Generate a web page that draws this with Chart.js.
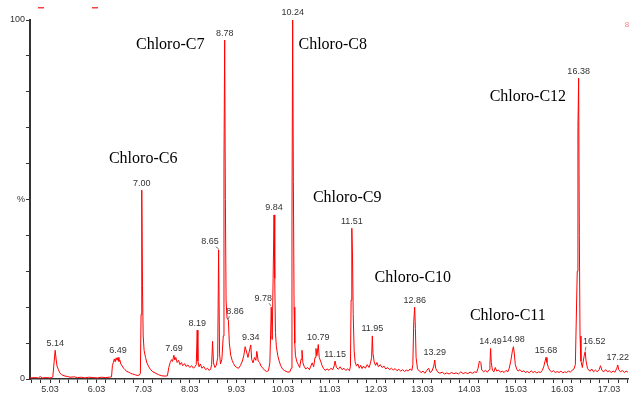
<!DOCTYPE html>
<html>
<head>
<meta charset="utf-8">
<script src="https://cdn.jsdelivr.net/npm/chart.js@4/dist/chart.umd.min.js"></script>
<style>
  html, body { margin: 0; padding: 0; background: #fff; }
  #wrap { width: 632px; height: 394px; position: relative; }
</style>
</head>
<body>
<div id="wrap"><canvas id="tic"></canvas></div>
<script>
// Total ion chromatogram, retention time (min) vs relative abundance (%)
const trace = [
  [4.60,0.3],[4.70,0.4],[4.78,0.3],[4.82,0.7],[4.86,0.3],[4.95,0.4],[5.02,0.3],[5.07,0.4],
  [5.09,0.6],[5.12,5.0],[5.14,8.0],[5.16,5.6],[5.18,3.6],[5.21,2.6],[5.24,1.7],[5.28,1.2],
  [5.33,0.9],[5.40,0.7],[5.46,0.5],[5.55,0.6],[5.62,0.4],[5.70,0.5],[5.78,0.3],[5.86,0.5],
  [5.95,0.4],[6.05,0.3],[6.14,0.5],[6.22,0.4],[6.30,0.5],[6.35,0.6],
  [6.37,3.8],[6.39,4.6],[6.41,5.6],[6.43,4.8],[6.45,5.9],[6.47,5.2],[6.49,6.0],[6.51,4.9],
  [6.53,5.3],[6.55,4.2],[6.58,3.6],[6.61,3.0],[6.64,2.6],[6.68,2.1],[6.72,1.9],[6.76,1.6],
  [6.80,1.4],[6.85,1.2],[6.90,1.0],[6.95,1.1],
  [6.97,1.6],[6.985,18],[7.00,52.6],[7.015,26],[7.03,12],[7.05,8.0],[7.08,6.0],[7.11,4.5],
  [7.15,3.4],[7.19,2.6],[7.24,2.0],[7.30,1.6],[7.36,1.2],[7.43,0.9],[7.50,0.8],[7.55,0.9],
  [7.58,3.2],[7.61,4.6],[7.64,5.4],[7.66,4.9],[7.69,6.6],[7.71,5.3],[7.73,6.0],[7.76,4.6],
  [7.79,5.2],[7.82,4.0],[7.85,4.6],[7.88,3.7],[7.92,4.3],[7.95,3.5],[7.99,3.9],[8.03,3.2],
  [8.07,3.7],[8.11,3.0],[8.14,3.4],
  [8.17,4.0],[8.19,13.6],[8.205,5.0],[8.23,3.4],[8.26,4.2],[8.29,3.0],[8.33,3.5],[8.37,2.6],
  [8.41,3.0],[8.45,2.4],[8.48,2.8],
  [8.50,4.0],[8.52,10.5],[8.54,4.5],[8.57,3.2],[8.60,3.8],
  [8.63,6.0],[8.65,36.0],[8.67,7.0],[8.69,4.2],[8.72,5.5],
  [8.75,12],[8.765,60],[8.78,94.4],[8.795,50],[8.81,22],[8.83,17.0],[8.86,16.4],[8.88,10],
  [8.91,6.6],[8.94,5.2],[8.97,4.3],[9.00,3.6],[9.04,3.2],[9.08,3.0],[9.12,3.8],[9.16,5.0],
  [9.19,6.5],[9.22,9.0],[9.25,7.5],[9.28,6.0],[9.31,7.8],[9.34,9.5],[9.36,5.5],[9.39,4.5],
  [9.42,6.0],[9.45,5.2],[9.47,7.7],[9.50,5.0],[9.53,4.6],[9.56,3.6],[9.60,3.0],[9.64,2.4],
  [9.68,2.1],[9.72,2.3],
  [9.75,4.5],[9.765,12],[9.78,20],[9.80,11],[9.82,28],[9.84,45.7],[9.855,28],[9.87,13],
  [9.89,9.0],[9.92,6.5],[9.95,5.0],[9.98,3.8],[10.02,2.8],[10.06,2.4],[10.10,2.1],[10.14,1.9],
  [10.18,2.0],
  [10.21,3.0],[10.225,45],[10.24,100],[10.255,55],[10.27,20],[10.285,10],[10.30,6.5],[10.33,4.8],
  [10.36,4.0],[10.39,3.2],[10.42,5.5],[10.44,8.0],[10.46,4.5],[10.49,3.4],[10.52,2.8],[10.56,3.2],
  [10.60,2.6],[10.63,3.6],[10.66,4.5],[10.69,3.4],[10.72,6.0],[10.74,8.5],[10.76,6.5],[10.79,9.6],
  [10.81,6.0],[10.84,5.0],[10.87,3.8],[10.90,3.0],[10.94,2.4],[10.98,2.8],[11.02,2.4],[11.06,3.0],
  [11.10,2.6],[11.13,3.6],[11.15,5.0],[11.18,3.2],[11.22,2.7],[11.26,3.4],[11.30,2.6],[11.34,3.0],
  [11.38,2.4],[11.42,2.8],[11.46,2.3],
  [11.48,3.5],[11.495,22],[11.51,42],[11.525,34],[11.54,18],[11.56,8.0],[11.58,4.8],[11.61,3.6],
  [11.64,4.2],[11.67,3.0],[11.70,3.8],[11.73,2.9],[11.76,3.6],[11.80,3.0],[11.84,4.0],[11.88,3.2],
  [11.91,4.4],[11.935,6.0],[11.95,12],[11.965,7.0],[11.99,4.8],[12.02,3.8],[12.05,4.6],[12.08,3.4],
  [12.12,4.0],[12.16,3.2],[12.20,3.6],[12.24,2.8],[12.28,3.2],[12.32,2.6],[12.36,3.0],[12.40,2.5],
  [12.44,2.9],[12.48,2.3],[12.52,2.7],[12.56,2.2],[12.60,2.6],[12.64,2.1],[12.68,2.5],[12.72,2.2],
  [12.76,2.8],[12.80,2.4],
  [12.82,4.0],[12.84,16],[12.86,20],[12.875,14],[12.89,6.0],[12.92,2.8],[12.96,2.2],[13.00,1.8],
  [13.04,2.2],[13.08,1.6],[13.12,2.4],[13.16,3.0],[13.19,1.8],[13.23,2.2],[13.27,3.6],[13.29,5.3],
  [13.31,3.0],[13.35,2.0],[13.40,1.6],[13.45,1.9],[13.50,1.4],[13.55,1.7],[13.60,1.4],[13.65,1.8],
  [13.70,1.5],[13.75,1.7],[13.80,1.4],[13.85,2.0],[13.90,1.5],[13.95,1.8],[14.00,1.5],[14.05,1.9],
  [14.10,1.6],[14.15,2.0],[14.19,1.8],
  [14.22,3.0],[14.25,5.0],[14.28,4.6],[14.30,2.5],[14.34,2.0],[14.38,2.4],[14.42,1.9],[14.46,2.6],
  [14.475,4.0],[14.49,8.5],[14.505,4.5],[14.53,2.4],[14.56,2.0],[14.59,3.2],[14.62,2.2],[14.66,2.5],
  [14.70,1.9],[14.74,2.2],[14.78,1.8],[14.82,2.4],[14.86,2.0],[14.89,3.0],
  [14.92,4.8],[14.94,6.4],[14.96,8.0],[14.98,9.0],[15.00,7.0],[15.02,4.0],[15.05,2.8],[15.08,2.2],
  [15.12,2.6],[15.16,2.0],[15.20,2.3],[15.24,1.8],[15.28,2.1],[15.32,1.7],[15.36,2.3],[15.40,1.8],
  [15.44,2.1],[15.48,1.7],[15.52,2.0],[15.56,1.8],[15.60,2.4],[15.63,3.4],
  [15.66,5.0],[15.68,6.0],[15.70,4.6],[15.73,3.2],[15.76,2.4],[15.80,2.0],[15.84,2.3],[15.88,1.8],
  [15.92,2.1],[15.96,1.8],[16.00,2.2],[16.04,1.7],[16.08,2.0],[16.12,1.8],[16.16,2.2],[16.20,1.9],
  [16.24,2.4],[16.28,2.8],
  [16.31,4.0],[16.35,30],[16.365,70],[16.38,83.8],[16.395,40],[16.41,12],[16.43,5.0],[16.46,3.2],
  [16.48,5.0],[16.50,6.5],[16.52,7.6],[16.54,5.0],[16.57,3.0],[16.60,2.4],[16.63,2.2],[16.66,2.8],
  [16.70,2.0],[16.74,2.5],[16.78,2.0],[16.82,2.6],[16.85,3.7],[16.88,2.4],[16.92,2.0],[16.96,2.6],
  [17.00,2.0],[17.04,2.3],[17.08,1.8],[17.12,2.2],[17.16,1.9],[17.20,3.0],[17.22,3.9],[17.24,2.6],
  [17.28,2.0],[17.32,2.4],[17.36,1.8],[17.40,2.2],[17.44,1.9]
];

// labelled peak apexes
const peakLabels = ['5.14','6.49','7.00','7.69','8.19','8.65','8.78','8.86','9.34','9.78','9.84','10.24',
  '10.79','11.15','11.51','11.95','12.86','13.29','14.49','14.98','15.68','16.38','16.52','17.22'];
const peakTimes = [5.14,6.49,7.00,7.69,8.19,8.65,8.78,8.86,9.34,9.78,9.84,10.24,
  10.79,11.15,11.51,11.95,12.86,13.29,14.49,14.98,15.68,16.38,16.52,17.22];
const peakTops = [8.0,6.0,52.6,6.6,13.6,36.0,94.4,16.4,9.5,20,45.7,100,
  9.6,5.0,42,12,20,5.3,8.5,9.0,6.0,83.8,7.6,3.9];

// compound annotations (centre of text, in data units)
const compounds = ['Chloro-C6','Chloro-C7','Chloro-C8','Chloro-C9','Chloro-C10','Chloro-C11','Chloro-C12'];
const compoundTimes = [7.03, 7.61, 11.10, 11.41, 12.82, 14.86, 15.29];
const compoundLevels = [61.3, 93.0, 93.0, 50.4, 28.1, 17.5, 78.6];

// x axis
const majorTicks = [5.03,6.03,7.03,8.03,9.03,10.03,11.03,12.03,13.03,14.03,15.03,16.03,17.03];

// label offsets (px) for labels drawn beside their peak with a leader
const LABEL_NUDGE = { '8.65': [-8.6, -1], '9.78': [-8, -2], '8.86': [6.6, -2], '16.52': [9, -3] };

const SANS = '"Liberation Sans", Arial, sans-serif';
const SERIF = '"Liberation Serif", "Times New Roman", serif';

const annotate = {
  id: 'annotate',
  afterDatasetsDraw(chart) {
    const { ctx, scales: { x, y } } = chart;
    ctx.save();
    // peak retention time labels
    ctx.font = '9px ' + SANS;
    ctx.fillStyle = '#333';
    ctx.textAlign = 'center';
    ctx.textBaseline = 'middle';
    peakLabels.forEach((lab, i) => {
      const ax = x.getPixelForValue(peakTimes[i]);
      const ay = y.getPixelForValue(peakTops[i]);
      const n = LABEL_NUDGE[lab] || [0, 0];
      const lx = ax + n[0], ly = ay - 7 + n[1];
      ctx.fillText(lab, lx, ly);
      if (LABEL_NUDGE[lab]) {
        const w = ctx.measureText(lab).width;
        ctx.strokeStyle = '#555';
        ctx.lineWidth = 0.8;
        ctx.beginPath();
        ctx.moveTo(lx + (n[0] < 0 ? w / 2 - 3 : -w / 2 + 3), ly + 5);
        ctx.lineTo(ax, ay - 1);
        ctx.stroke();
      }
    });
    // compound names
    ctx.font = '16px ' + SERIF;
    ctx.fillStyle = '#000';
    compounds.forEach((c, i) => {
      ctx.fillText(c, x.getPixelForValue(compoundTimes[i]), y.getPixelForValue(compoundLevels[i]));
    });
    // stray marks from the original screen grab
    ctx.fillStyle = '#ff4040';
    ctx.fillRect(38, 7, 6, 1.5);
    ctx.fillRect(92, 7, 6, 1.5);
    ctx.fillStyle = '#ff8080';
    ctx.font = '8px ' + SANS;
    ctx.fillText('8', 627, 25);
    ctx.restore();
  }
};

new Chart(document.getElementById('tic'), {
  type: 'line',
  data: {
    datasets: [{
      data: trace.map(p => ({ x: p[0], y: p[1] })),
      borderColor: '#ff0000',
      borderWidth: 1,
      pointRadius: 0,
      tension: 0,
      fill: false,
    }],
  },
  options: {
    responsive: true,
    maintainAspectRatio: false,
    animation: false,
    events: [],
    layout: { padding: { top: 20, right: 4, left: 0, bottom: 0 } },
    plugins: { legend: { display: false }, tooltip: { enabled: false } },
    scales: {
      x: {
        type: 'linear',
        min: 4.6,
        max: 17.44,
        afterBuildTicks: (scale) => {
          const t = [];
          for (let i = 0; i <= 64; i++) t.push({ value: Math.round((4.63 + 0.2 * i) * 100) / 100 });
          scale.ticks = t.filter(v => v.value <= 17.44);
        },
        afterFit: (scale) => { scale.height = 15; },
        ticks: {
          autoSkip: false,
          maxRotation: 0,
          padding: 1,
          color: '#333',
          font: { family: SANS, size: 9 },
          callback: (v) => majorTicks.includes(Math.round(v * 100) / 100) ? v.toFixed(2) : '',
        },
        grid: { drawOnChartArea: false, tickLength: 4, tickColor: '#333' },
        border: { color: '#333', width: 1.5 },
      },
      y: {
        min: 0,
        max: 100,
        afterFit: (scale) => { scale.width = 30; },
        ticks: {
          stepSize: 10,
          autoSkip: false,
          padding: 1,
          color: '#333',
          font: { family: SANS, size: 9 },
          callback: (v) => v === 100 ? '100' : v === 50 ? '%' : v === 0 ? '0' : '',
        },
        grid: { drawOnChartArea: false, tickLength: 4, tickColor: '#333' },
        border: { color: '#333', width: 2 },
      },
    },
  },
  plugins: [annotate],
});
</script>
</body>
</html>
